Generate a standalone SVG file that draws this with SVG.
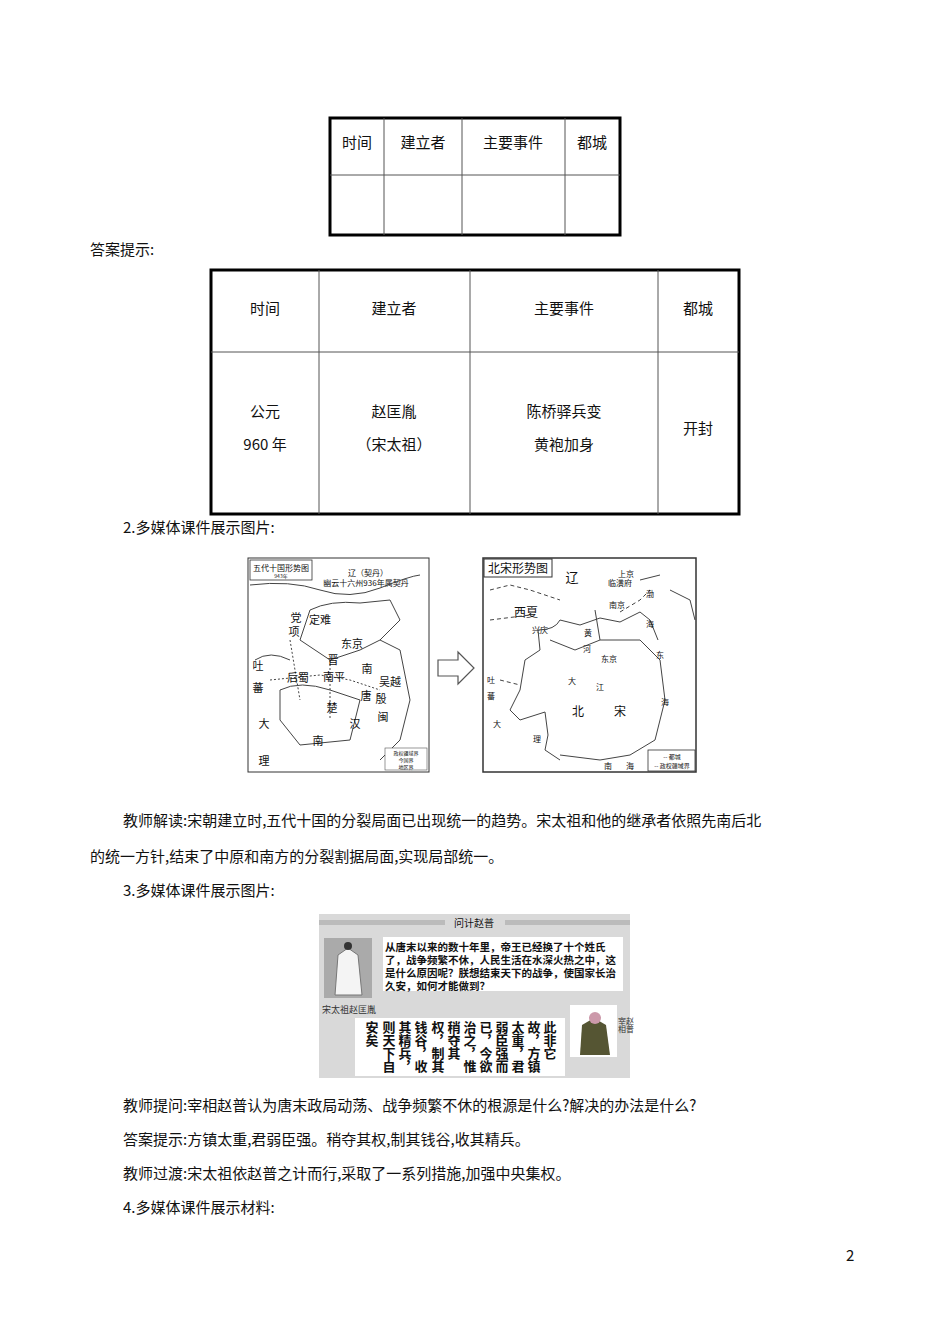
<svg xmlns="http://www.w3.org/2000/svg" width="950" height="1344" viewBox="0 0 950 1344">
<style>
text{font-family:"Noto Sans CJK SC","Liberation Serif",serif;fill:#111}
.b{font-size:15px}
.t{font-size:15px;text-anchor:middle}
.m{font-size:8px;text-anchor:middle}
.s{font-size:11px;text-anchor:middle}
.thick{fill:none;stroke:#000;stroke-width:3}
.thin{stroke:#555;stroke-width:1}
.geo{fill:none;stroke:#444;stroke-width:1}
.v{font-size:13px;font-weight:bold;writing-mode:vertical-rl}
.p{font-size:10.5px;font-weight:bold}
</style>
<rect width="950" height="1344" fill="#fff"/>
<g id="table1">
<rect x="330" y="118" width="290" height="117" class="thick"/>
<line x1="330" y1="175" x2="620" y2="175" class="thin"/>
<line x1="384" y1="118" x2="384" y2="235" class="thin"/>
<line x1="462" y1="118" x2="462" y2="235" class="thin"/>
<line x1="565" y1="118" x2="565" y2="235" class="thin"/>
<text x="357" y="148" class="t">时间</text>
<text x="423" y="148" class="t">建立者</text>
<text x="513" y="148" class="t">主要事件</text>
<text x="592" y="148" class="t">都城</text>
</g>
<text x="90" y="255" class="b">答案提示:</text>
<g id="table2">
<rect x="211" y="270" width="528" height="244" class="thick"/>
<line x1="211" y1="352" x2="739" y2="352" class="thin"/>
<line x1="319" y1="270" x2="319" y2="514" class="thin"/>
<line x1="470" y1="270" x2="470" y2="514" class="thin"/>
<line x1="658" y1="270" x2="658" y2="514" class="thin"/>
<text x="265" y="314" class="t">时间</text>
<text x="394" y="314" class="t">建立者</text>
<text x="564" y="314" class="t">主要事件</text>
<text x="698" y="314" class="t">都城</text>
<text x="265" y="417" class="t">公元</text>
<text x="265" y="450" class="t">960 年</text>
<text x="394" y="417" class="t">赵匡胤</text>
<text x="394" y="450" class="t">（宋太祖）</text>
<text x="564" y="417" class="t">陈桥驿兵变</text>
<text x="564" y="450" class="t">黄袍加身</text>
<text x="698" y="434" class="t">开封</text>
</g>
<text x="123" y="533" class="b">2.多媒体课件展示图片:</text>
<g id="map1">
<rect x="248" y="558" width="181" height="214" fill="#fff" stroke="#333"/>
<rect x="250" y="560" width="62" height="20" fill="#fff" stroke="#333" stroke-width="0.8"/>
<text x="281" y="571" class="m">五代十国形势图</text>
<text x="281" y="578" class="m" style="font-size:5px">943年</text>
<text x="368" y="576" class="m">辽（契丹）</text>
<text x="366" y="586" class="m">幽云十六州936年属契丹</text>
<path class="geo" d="M250 585 Q290 580 320 590 T380 588 420 575 M310 610 Q330 600 360 603 L390 600 L400 620 L380 640 L360 650 L330 660 L300 640 Z M280 690 Q300 680 330 690 L360 700 L350 740 L300 745 L280 720 Z M380 640 L400 650 L410 700 L400 740 L380 760 M255 660 Q270 650 290 660"/>
<path class="geo" stroke-dasharray="2,2" d="M270 680 L320 675 L350 680 L380 690 M330 660 L330 720 M290 640 L300 700"/>
<text x="296" y="622" class="s">党</text><text x="294" y="636" class="s">项</text>
<text x="320" y="624" class="s">定难</text>
<text x="352" y="648" class="s">东京</text>
<text x="333" y="664" class="s">晋</text>
<text x="258" y="670" class="s">吐</text><text x="258" y="692" class="s">蕃</text>
<text x="298" y="682" class="s">后蜀</text>
<text x="334" y="681" class="s">南平</text>
<text x="367" y="673" class="s">南</text>
<text x="366" y="700" class="s">唐</text>
<text x="332" y="712" class="s">楚</text>
<text x="390" y="686" class="s">吴越</text>
<text x="381" y="703" class="s">殷</text><text x="383" y="721" class="s">闽</text>
<text x="264" y="728" class="s">大</text><text x="355" y="728" class="s">汉</text>
<text x="318" y="745" class="s">南</text><text x="264" y="765" class="s">理</text>
<rect x="385" y="748" width="42" height="22" fill="#fff" stroke="#555" stroke-width="0.6"/>
<text x="406" y="755" class="m" style="font-size:5px">政权疆域界</text>
<text x="406" y="762" class="m" style="font-size:5px">今国界</text>
<text x="406" y="769" class="m" style="font-size:5px">地区界</text>
</g>
<g id="arrow">
<path d="M438 660 L458 660 L458 652 L474 668 L458 684 L458 676 L438 676 Z" fill="#fff" stroke="#555" stroke-width="1.2"/>
</g>
<g id="map2">
<rect x="483" y="558" width="213" height="214" fill="#fff" stroke="#333" stroke-width="1.5"/>
<rect x="484" y="559" width="68" height="18" fill="#fff" stroke="#333"/>
<text x="518" y="573" class="s" style="font-size:12px">北宋形势图</text>
<text x="572" y="582" class="s" style="font-size:13px">辽</text>
<text x="626" y="577" class="m">上京</text>
<text x="620" y="586" class="m">临潢府</text>
<text x="617" y="608" class="m">南京</text>
<text x="526" y="617" class="s" style="font-size:12px">西夏</text>
<text x="540" y="633" class="m">兴庆</text>
<path class="geo" stroke="#000" stroke-width="1.8" d="M538 630 Q555 630 560 620 L580 625 L600 618 L620 622 L640 612 M538 630 L540 650 L525 660 L520 690 L510 710 L520 720 L545 712 L548 735 L545 750 L560 760"/>
<path class="geo" d="M550 640 L575 650 L600 640 L640 640 L660 660 L665 700 L655 740 L630 755 L600 760 L560 755 M595 610 L600 640 M640 612 L650 620 L658 640 M640 580 L660 575 M670 590 L690 600 L695 620"/>
<path class="geo" stroke-dasharray="4,3" d="M490 590 L510 585 L530 590 L560 600 M490 620 L530 615 M500 680 L520 685 M620 612 L640 600 L650 590"/>
<text x="650" y="597" class="m">渤</text><text x="650" y="627" class="m">海</text>
<text x="588" y="636" class="m">黄</text><text x="587" y="652" class="m">河</text>
<text x="609" y="662" class="m">东京</text>
<text x="660" y="658" class="m">东</text>
<text x="572" y="684" class="m">大</text><text x="600" y="690" class="m">江</text>
<text x="491" y="683" class="m">吐</text><text x="491" y="699" class="m">蕃</text>
<text x="578" y="716" class="s" style="font-size:12px">北</text>
<text x="620" y="716" class="s" style="font-size:12px">宋</text>
<text x="665" y="705" class="m">海</text>
<text x="497" y="727" class="m">大</text><text x="537" y="742" class="m">理</text>
<text x="608" y="769" class="m">南</text><text x="630" y="769" class="m">海</text>
<rect x="648" y="750" width="47" height="21" fill="#fff" stroke="#333" stroke-width="0.8"/>
<text x="672" y="759" class="m" style="font-size:6px">-- 都城</text>
<text x="672" y="768" class="m" style="font-size:6px">-- 政权疆域界</text>
</g>
<text x="123" y="826" class="b">教师解读:宋朝建立时,五代十国的分裂局面已出现统一的趋势。宋太祖和他的继承者依照先南后北</text>
<text x="90" y="862" class="b">的统一方针,结束了中原和南方的分裂割据局面,实现局部统一。</text>
<text x="123" y="896" class="b">3.多媒体课件展示图片:</text>
<g id="picture">
<rect x="319" y="914" width="311" height="164" fill="#d9d9d9"/>
<rect x="319" y="920" width="311" height="5" fill="#bbb"/>
<rect x="445" y="916" width="60" height="14" fill="#d9d9d9"/>
<text x="474" y="927" class="s" style="font-size:10px">问计赵普</text>
<rect x="324" y="938" width="48" height="60" fill="#aaa"/>
<path d="M335 995 L338 955 L348 948 L358 955 L362 995 Z" fill="#f4f4f4" stroke="#777"/>
<circle cx="348" cy="946" r="4" fill="#333"/>
<rect x="383" y="937" width="240" height="54" fill="#fff"/>
<text x="385" y="951" class="p">从唐末以来的数十年里，帝王已经换了十个姓氏</text>
<text x="385" y="964" class="p">了，战争频繁不休，人民生活在水深火热之中，这</text>
<text x="385" y="977" class="p">是什么原因呢？朕想结束天下的战争，使国家长治</text>
<text x="385" y="990" class="p">久安，如何才能做到？</text>
<text x="322" y="1013" style="font-size:9px;fill:#333">宋太祖赵匡胤</text>
<rect x="355" y="1018" width="210" height="58" fill="#fff"/>
<rect x="570" y="1005" width="47" height="52" fill="#fff"/>
<path d="M580 1055 L582 1025 L594 1018 L606 1025 L610 1055 Z" fill="#553"/>
<circle cx="595" cy="1018" r="6" fill="#c9a"/>
<text x="622" y="1025" class="s" style="font-size:8px;writing-mode:vertical-rl;fill:#333">宰相</text>
<text x="630" y="1025" class="s" style="font-size:8px;writing-mode:vertical-rl;fill:#333">赵普</text>
<text x="550" y="1021" class="v">此非它</text>
<text x="534" y="1021" class="v">故，方镇</text>
<text x="518" y="1021" class="v">太重，君</text>
<text x="502" y="1021" class="v">弱臣强而</text>
<text x="486" y="1021" class="v">已，今欲</text>
<text x="470" y="1021" class="v">治之，惟</text>
<text x="454" y="1021" class="v">稍夺其</text>
<text x="438" y="1021" class="v">权，制其</text>
<text x="421" y="1021" class="v">钱谷，收</text>
<text x="405" y="1021" class="v">其精兵，</text>
<text x="389" y="1021" class="v">则天下自</text>
<text x="372" y="1021" class="v">安矣</text>
</g>
<text x="123" y="1111" class="b">教师提问:宰相赵普认为唐末政局动荡、战争频繁不休的根源是什么?解决的办法是什么?</text>
<text x="123" y="1145" class="b">答案提示:方镇太重,君弱臣强。稍夺其权,制其钱谷,收其精兵。</text>
<text x="123" y="1179" class="b">教师过渡:宋太祖依赵普之计而行,采取了一系列措施,加强中央集权。</text>
<text x="123" y="1213" class="b">4.多媒体课件展示材料:</text>
<text x="846" y="1261" class="b">2</text>
</svg>
